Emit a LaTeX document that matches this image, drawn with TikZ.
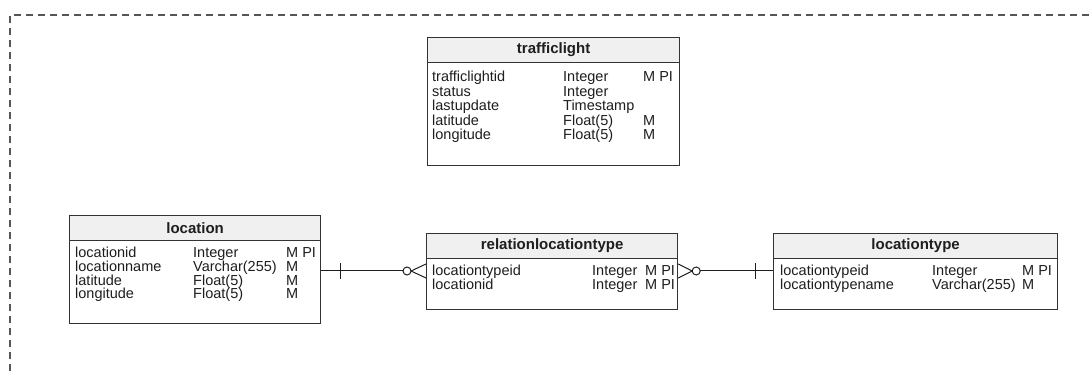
\documentclass[tikz,border=0pt]{standalone}
\usepackage{fontspec}
\setmainfont{Liberation Sans}
\definecolor{boxline}{HTML}{333333}
\definecolor{hdrfill}{HTML}{F0F0F0}
\definecolor{ink}{HTML}{1E1E1E}
\definecolor{framegray}{HTML}{555555}
\begin{document}
\begin{tikzpicture}[x=1pt,y=-1pt,
  tbl/.style={draw=boxline, line width=1.2pt, fill=white, rectangle, inner sep=0pt, anchor=north west},
  hdrbox/.style={tbl, fill=hdrfill},
  hdr/.style={font=\fontsize{15}{17}\selectfont\bfseries, text=ink, inner sep=0pt},
  fld/.style={font=\fontsize{14.5}{16}\selectfont, text=ink, anchor=base west, inner sep=0pt},
  conn/.style={draw=ink, line width=1pt},
  frame/.style={draw=framegray, line width=1.1pt, dash pattern=on 7pt off 5pt}]
\useasboundingbox (0,0) rectangle (1089,371);

% dashed frame of the model area
\draw[frame] (10,371) -- (10,15) -- (1089,15);

% an entity: body box, then header strip with its title
\newcommand\entity[6]{%
  \node[tbl, minimum width=#4pt, minimum height=#5pt] (#1) at (#2,#3) {};
  \node[hdrbox, minimum width=#4pt, minimum height=25pt] (#1-h) at (#2,#3) {};
  \node[hdr] (#1-t) at (#1-h.center) {#6};
}

% trafficlight
\entity{traffic}{427}{37}{252}{128}{trafficlight}
\node[fld] (tl1n) at (432,82) {trafficlightid};
\node[fld] (tl1t) at (563,82) {Integer};
\node[fld] (tl1f) at (643,82) {M PI};
\node[fld] (tl2n) at (432,96.5) {status};
\node[fld] (tl2t) at (563,96.5) {Integer};
\node[fld] (tl3n) at (432,111) {lastupdate};
\node[fld] (tl3t) at (563,111) {Timestamp};
\node[fld] (tl4n) at (432,125.5) {latitude};
\node[fld] (tl4t) at (563,125.5) {Float(5)};
\node[fld] (tl4f) at (643,125.5) {M};
\node[fld] (tl5n) at (432,140) {longitude};
\node[fld] (tl5t) at (563,140) {Float(5)};
\node[fld] (tl5f) at (643,140) {M};

% location
\entity{location}{69}{215}{251}{108}{location}
\node[fld] (lo1n) at (75,258) {locationid};
\node[fld] (lo1t) at (193,258) {Integer};
\node[fld] (lo1f) at (286,258) {M PI};
\node[fld] (lo2n) at (75,271.5) {locationname};
\node[fld] (lo2t) at (193,271.5) {Varchar(255)};
\node[fld] (lo2f) at (286,271.5) {M};
\node[fld] (lo3n) at (75,285) {latitude};
\node[fld] (lo3t) at (193,285) {Float(5)};
\node[fld] (lo3f) at (286,285) {M};
\node[fld] (lo4n) at (75,298.5) {longitude};
\node[fld] (lo4t) at (193,298.5) {Float(5)};
\node[fld] (lo4f) at (286,298.5) {M};

% relationlocationtype
\entity{relation}{426}{233}{251}{76}{relationlocationtype}
\node[fld] (re1n) at (432,276) {locationtypeid};
\node[fld] (re1t) at (592,276) {Integer};
\node[fld] (re1f) at (645,276) {M PI};
\node[fld] (re2n) at (432,290) {locationid};
\node[fld] (re2t) at (592,290) {Integer};
\node[fld] (re2f) at (645,290) {M PI};

% locationtype
\entity{loctype}{773}{233}{284}{76}{locationtype}
\node[fld] (lt1n) at (780,276) {locationtypeid};
\node[fld] (lt1t) at (932,276) {Integer};
\node[fld] (lt1f) at (1022,276) {M PI};
\node[fld] (lt2n) at (780,290) {locationtypename};
\node[fld] (lt2t) at (932,290) {Varchar(255)};
\node[fld] (lt2f) at (1022,290) {M};

% location (one) -- relationlocationtype (zero or many)
\coordinate (la) at (location.east |- 0,271);
\coordinate (lb) at (relation.west |- 0,271);
\draw[conn] (la) -- ([xshift=-23pt]lb);
\draw[conn] ([xshift=19pt]la) ++(0,-8) -- ++(0,16);
\draw[conn] ([xshift=-19pt]lb) circle[radius=4pt];
\draw[conn] ([xshift=-15pt]lb) -- ([yshift=-7pt]lb);
\draw[conn] ([xshift=-15pt]lb) -- ([yshift=7pt]lb);

% relationlocationtype (zero or many) -- locationtype (one)
\coordinate (ra) at (relation.east |- 0,271);
\coordinate (rb) at (loctype.west |- 0,271);
\draw[conn] ([xshift=22pt]ra) -- (rb);
\draw[conn] ([xshift=-18pt]rb) ++(0,-8) -- ++(0,16);
\draw[conn] ([xshift=18pt]ra) circle[radius=4pt];
\draw[conn] ([xshift=14pt]ra) -- ([yshift=-7pt]ra);
\draw[conn] ([xshift=14pt]ra) -- ([yshift=7pt]ra);
\end{tikzpicture}
\end{document}
